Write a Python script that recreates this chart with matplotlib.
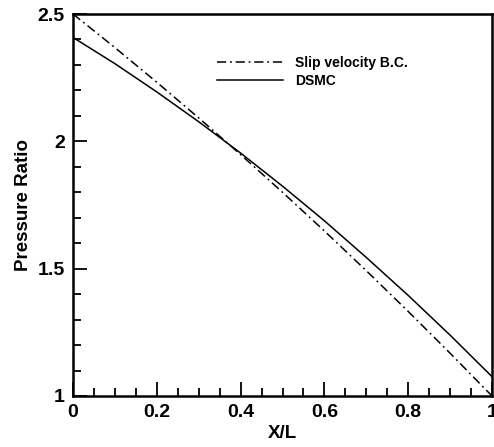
import matplotlib
matplotlib.use("Agg")
import matplotlib.pyplot as plt
from matplotlib.ticker import MultipleLocator, FixedLocator

plt.rcParams['font.family'] = ['Liberation Sans', 'DejaVu Sans']
plt.rcParams['font.weight'] = 'bold'

x_vals = [0.0, 0.1, 0.2, 0.3, 0.4, 0.5, 0.6, 0.7, 0.8, 0.9, 1.0]
slip_vals = [2.5, 2.368, 2.232, 2.092, 1.948, 1.800, 1.648, 1.492, 1.332, 1.168, 1.0]
dsmc_vals = [2.408, 2.305, 2.194, 2.077, 1.954, 1.824, 1.688, 1.544, 1.395, 1.239, 1.076]

xticks = [0, 0.2, 0.4, 0.6, 0.8, 1]
xticklabels = ['0', '0.2', '0.4', '0.6', '0.8', '1']
yticks = [1, 1.5, 2, 2.5]
yticklabels = ['1', '1.5', '2', '2.5']

fig = plt.figure(figsize=(4.94, 4.47), dpi=100)
ax = fig.add_axes([73/494, 1-396/447, 419/494, 382/447])

ax.plot(x_vals, slip_vals, color='black', lw=1.1, linestyle=(0, (6, 2.5, 1.2, 2.5)),
        label='Slip velocity B.C.')
ax.plot(x_vals, dsmc_vals, color='black', lw=1.1, linestyle='-', label='DSMC')

ax.set_xlim(0, 1)
ax.set_ylim(1, 2.5)
ax.xaxis.set_major_locator(FixedLocator(xticks))
ax.set_xticklabels(xticklabels)
ax.yaxis.set_major_locator(FixedLocator(yticks))
ax.set_yticklabels(yticklabels)
ax.xaxis.set_minor_locator(MultipleLocator(0.05))
ax.yaxis.set_minor_locator(MultipleLocator(0.1))
ax.tick_params(which='both', direction='in', top=False, right=False, width=1.3)
ax.tick_params(which='major', length=10, labelsize=14, pad=6)
ax.tick_params(which='minor', length=6)
for lab in ax.get_xticklabels() + ax.get_yticklabels():
    lab.set_fontweight('bold')
for s in ax.spines.values():
    s.set_linewidth(1.8)

ax.set_xlabel('X/L', fontsize=13.5, fontweight='bold', labelpad=3)
ax.set_ylabel('Pressure Ratio', fontsize=13.5, fontweight='bold', labelpad=4)

leg = ax.legend(loc='upper left', bbox_to_anchor=(0.33, 0.905), frameon=False,
                prop={'weight': 'bold', 'size': 10}, handlelength=4.8,
                handletextpad=0.85, labelspacing=0.3, borderaxespad=0)

fig.savefig('out.png', dpi=100)
